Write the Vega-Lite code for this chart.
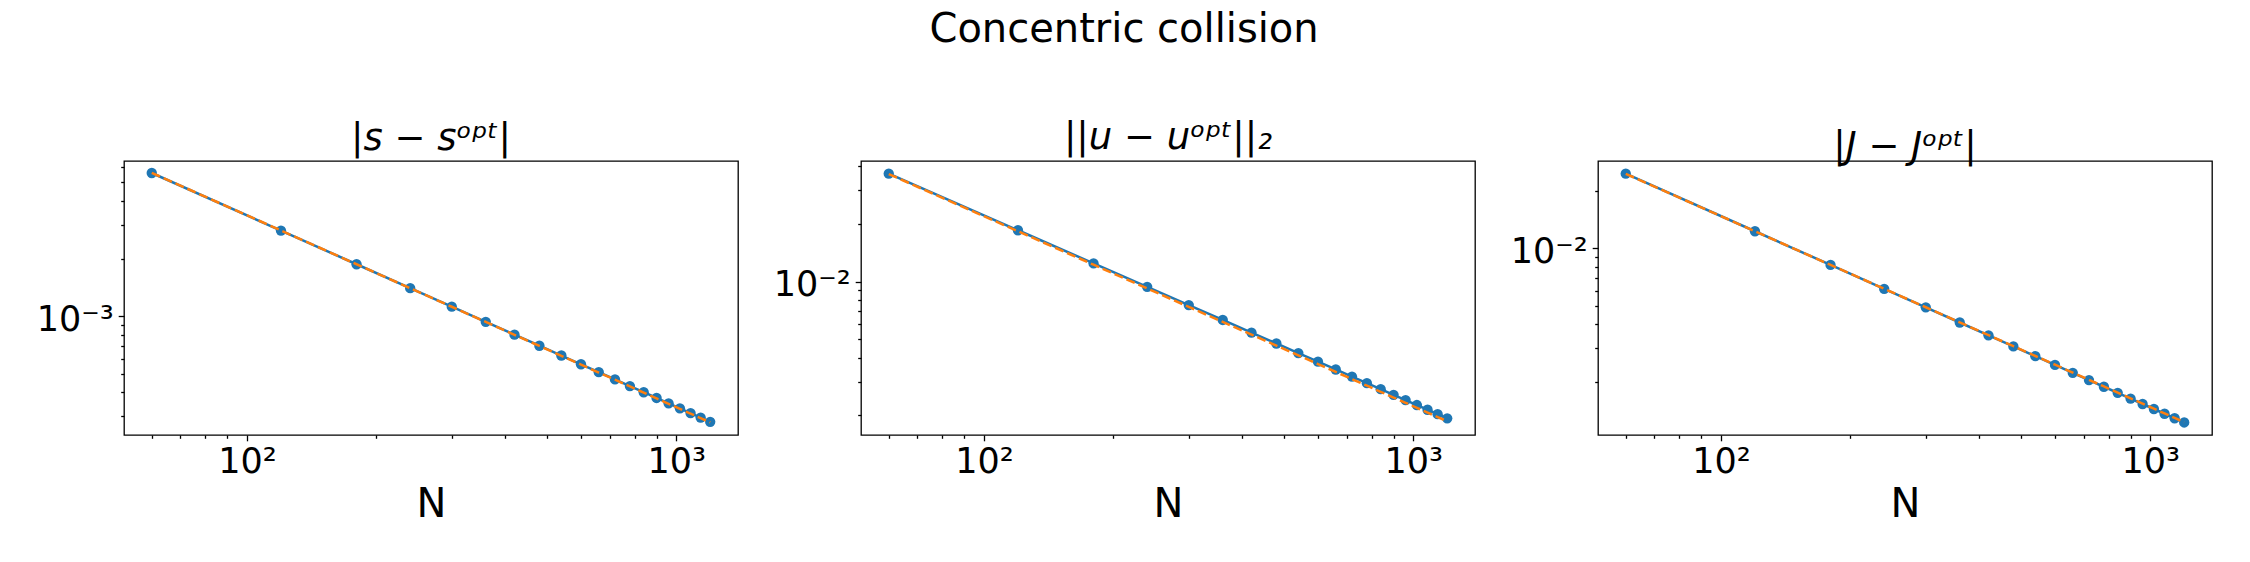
{
  "$schema": "https://vega.github.io/schema/vega-lite/v6.json",
  "autosize": {"type": "none"},
  "padding": {"left": 124, "top": 161, "right": 2126, "bottom": 401},
  "background": "white",
  "bounds": "flush",
  "spacing": 123,
  "title": {"text": "Concentric collision", "font": "DejaVu Sans", "fontSize": 40, "fontWeight": "normal", "color": "black", "anchor": "middle", "offset": 69},
  "config": {
    "view": {"stroke": "black", "strokeWidth": 1.3},
    "axis": {"labelFont": "DejaVu Sans", "labelFontSize": 35, "labelColor": "black", "titleFont": "DejaVu Sans", "titleFontSize": 40, "titleFontWeight": "normal", "titleColor": "black", "grid": false, "domain": false, "tickColor": "black", "tickWidth": 1.3, "labelOverlap": false, "labelBound": false, "labelFlush": false}
  },
  "datasets": {
    "d1": [
      {"N": 60, "err": 0.005600, "fit": 0.005610},
      {"N": 120, "err": 0.002800, "fit": 0.002803},
      {"N": 180, "err": 0.001867, "fit": 0.001867},
      {"N": 240, "err": 0.001400, "fit": 0.001399},
      {"N": 300, "err": 0.001120, "fit": 0.001119},
      {"N": 360, "err": 0.0009333, "fit": 0.000932},
      {"N": 420, "err": 0.0008000, "fit": 0.000798},
      {"N": 480, "err": 0.0007000, "fit": 0.000698},
      {"N": 540, "err": 0.0006222, "fit": 0.000620},
      {"N": 600, "err": 0.0005600, "fit": 0.000558},
      {"N": 660, "err": 0.0005091, "fit": 0.000507},
      {"N": 720, "err": 0.0004667, "fit": 0.000465},
      {"N": 780, "err": 0.0004308, "fit": 0.000429},
      {"N": 840, "err": 0.0004000, "fit": 0.000398},
      {"N": 900, "err": 0.0003733, "fit": 0.000371},
      {"N": 960, "err": 0.0003500, "fit": 0.000348},
      {"N": 1020, "err": 0.0003294, "fit": 0.0003275},
      {"N": 1080, "err": 0.0003111, "fit": 0.000309},
      {"N": 1140, "err": 0.0002947, "fit": 0.000293},
      {"N": 1200, "err": 0.0002800, "fit": 0.000278}
    ],
    "d2": [
      {"N": 60, "err": 0.03660, "fit": 0.03640},
      {"N": 120, "err": 0.01853, "fit": 0.01830},
      {"N": 180, "err": 0.01244, "fit": 0.01224},
      {"N": 240, "err": 0.009381, "fit": 0.009201},
      {"N": 300, "err": 0.007535, "fit": 0.007374},
      {"N": 360, "err": 0.006300, "fit": 0.006154},
      {"N": 420, "err": 0.005415, "fit": 0.005282},
      {"N": 480, "err": 0.004749, "fit": 0.004626},
      {"N": 540, "err": 0.004231, "fit": 0.004116},
      {"N": 600, "err": 0.003815, "fit": 0.003708},
      {"N": 660, "err": 0.003474, "fit": 0.003374},
      {"N": 720, "err": 0.003189, "fit": 0.003094},
      {"N": 780, "err": 0.002948, "fit": 0.002858},
      {"N": 840, "err": 0.002741, "fit": 0.002655},
      {"N": 900, "err": 0.002562, "fit": 0.002479},
      {"N": 960, "err": 0.002404, "fit": 0.002326},
      {"N": 1020, "err": 0.002265, "fit": 0.002190},
      {"N": 1080, "err": 0.002141, "fit": 0.002069},
      {"N": 1140, "err": 0.002030, "fit": 0.001961},
      {"N": 1200, "err": 0.001931, "fit": 0.001864}
    ],
    "d3": [
      {"N": 60, "err": 0.02455, "fit": 0.02450},
      {"N": 120, "err": 0.012275, "fit": 0.012267},
      {"N": 180, "err": 0.008183, "fit": 0.008185},
      {"N": 240, "err": 0.006138, "fit": 0.006142},
      {"N": 300, "err": 0.004910, "fit": 0.004916},
      {"N": 360, "err": 0.004092, "fit": 0.004098},
      {"N": 420, "err": 0.003507, "fit": 0.003514},
      {"N": 480, "err": 0.003069, "fit": 0.003075},
      {"N": 540, "err": 0.002728, "fit": 0.002734},
      {"N": 600, "err": 0.002455, "fit": 0.002461},
      {"N": 660, "err": 0.002232, "fit": 0.002238},
      {"N": 720, "err": 0.002046, "fit": 0.002052},
      {"N": 780, "err": 0.001888, "fit": 0.001894},
      {"N": 840, "err": 0.001754, "fit": 0.001759},
      {"N": 900, "err": 0.001637, "fit": 0.001642},
      {"N": 960, "err": 0.001534, "fit": 0.001540},
      {"N": 1020, "err": 0.001444, "fit": 0.001449},
      {"N": 1080, "err": 0.001364, "fit": 0.001369},
      {"N": 1140, "err": 0.001292, "fit": 0.001297},
      {"N": 1200, "err": 0.001228, "fit": 0.001232}
    ]
  },
  "hconcat": [
    {
      "width": 614, "height": 274,
      "title": {"text": "|s − sᵒᵖᵗ|", "font": "DejaVu Sans", "fontSize": 37, "fontStyle": "italic", "fontWeight": "normal", "color": "black", "anchor": "middle", "offset": -5},
      "data": {"name": "d1"},
      "encoding": {
        "x": {"field": "N", "type": "quantitative", "title": "N",
          "scale": {"type": "log", "domain": [51.7, 1393], "nice": false},
          "axis": {"values": [60, 70, 80, 90, 100, 200, 300, 400, 500, 600, 700, 800, 900, 1000],
            "labelExpr": "datum.value == 100 ? '10²' : (datum.value == 1000 ? '10³' : '')",
            "tickSize": {"condition": {"test": "datum.value == 100 || datum.value == 1000", "value": 5.8}, "value": 3.3},
            "labelPadding": 4, "titlePadding": 5}}
      },
      "layer": [
        {"mark": {"type": "line", "color": "#1f77b4", "strokeWidth": 2.5},
          "encoding": {"y": {"field": "err", "type": "quantitative", "title": null, "scale": {"type": "log", "domain": [0.000239, 0.00647], "nice": false},
            "axis": {"values": [0.0003, 0.0004, 0.0005, 0.0006, 0.0007, 0.0008, 0.0009, 0.001, 0.002, 0.003, 0.004, 0.005, 0.006],
              "labelExpr": "datum.value == 0.001 ? '10⁻³' : ''",
              "tickSize": {"condition": {"test": "datum.value == 0.001", "value": 5.8}, "value": 3.3},
              "labelPadding": 5, "labelOffset": 3}}}},
        {"mark": {"type": "point", "filled": true, "size": 107, "color": "#1f77b4", "opacity": 1},
          "encoding": {"y": {"field": "err", "type": "quantitative", "title": null}}},
        {"mark": {"type": "line", "color": "#ff7f0e", "strokeWidth": 2.5, "strokeDash": [9, 4]},
          "encoding": {"y": {"field": "fit", "type": "quantitative", "title": null}}}
      ]
    },
    {
      "width": 614, "height": 274,
      "title": {"text": "||u − uᵒᵖᵗ||₂", "font": "DejaVu Sans", "fontSize": 37, "fontStyle": "italic", "fontWeight": "normal", "color": "black", "anchor": "middle", "offset": -5},
      "data": {"name": "d2"},
      "encoding": {
        "x": {"field": "N", "type": "quantitative", "title": "N",
          "scale": {"type": "log", "domain": [51.7, 1393], "nice": false},
          "axis": {"values": [60, 70, 80, 90, 100, 200, 300, 400, 500, 600, 700, 800, 900, 1000],
            "labelExpr": "datum.value == 100 ? '10²' : (datum.value == 1000 ? '10³' : '')",
            "tickSize": {"condition": {"test": "datum.value == 100 || datum.value == 1000", "value": 5.8}, "value": 3.3},
            "labelPadding": 4, "titlePadding": 5}}
      },
      "layer": [
        {"mark": {"type": "line", "color": "#1f77b4", "strokeWidth": 2.5},
          "encoding": {"y": {"field": "err", "type": "quantitative", "title": null, "scale": {"type": "log", "domain": [0.00158, 0.0426], "nice": false},
            "axis": {"values": [0.002, 0.003, 0.004, 0.005, 0.006, 0.007, 0.008, 0.009, 0.01, 0.02, 0.03, 0.04],
              "labelExpr": "datum.value == 0.01 ? '10⁻²' : ''",
              "tickSize": {"condition": {"test": "datum.value == 0.01", "value": 5.8}, "value": 3.3},
              "labelPadding": 5, "labelOffset": 3}}}},
        {"mark": {"type": "point", "filled": true, "size": 107, "color": "#1f77b4", "opacity": 1},
          "encoding": {"y": {"field": "err", "type": "quantitative", "title": null}}},
        {"mark": {"type": "line", "color": "#ff7f0e", "strokeWidth": 2.5, "strokeDash": [9, 4]},
          "encoding": {"y": {"field": "fit", "type": "quantitative", "title": null}}}
      ]
    },
    {
      "width": 614, "height": 274,
      "title": {"text": "|J − Jᵒᵖᵗ|", "font": "DejaVu Sans", "fontSize": 37, "fontStyle": "italic", "fontWeight": "normal", "color": "black", "anchor": "middle", "offset": -5},
      "data": {"name": "d3"},
      "encoding": {
        "x": {"field": "N", "type": "quantitative", "title": "N",
          "scale": {"type": "log", "domain": [51.7, 1393], "nice": false},
          "axis": {"values": [60, 70, 80, 90, 100, 200, 300, 400, 500, 600, 700, 800, 900, 1000],
            "labelExpr": "datum.value == 100 ? '10²' : (datum.value == 1000 ? '10³' : '')",
            "tickSize": {"condition": {"test": "datum.value == 100 || datum.value == 1000", "value": 5.8}, "value": 3.3},
            "labelPadding": 4, "titlePadding": 5}}
      },
      "layer": [
        {"mark": {"type": "line", "color": "#1f77b4", "strokeWidth": 2.5},
          "encoding": {"y": {"field": "err", "type": "quantitative", "title": null, "scale": {"type": "log", "domain": [0.001056, 0.0286], "nice": false},
            "axis": {"values": [0.002, 0.003, 0.004, 0.005, 0.006, 0.007, 0.008, 0.009, 0.01, 0.02],
              "labelExpr": "datum.value == 0.01 ? '10⁻²' : ''",
              "tickSize": {"condition": {"test": "datum.value == 0.01", "value": 5.8}, "value": 3.3},
              "labelPadding": 5, "labelOffset": 3}}}},
        {"mark": {"type": "point", "filled": true, "size": 107, "color": "#1f77b4", "opacity": 1},
          "encoding": {"y": {"field": "err", "type": "quantitative", "title": null}}},
        {"mark": {"type": "line", "color": "#ff7f0e", "strokeWidth": 2.5, "strokeDash": [9, 4]},
          "encoding": {"y": {"field": "fit", "type": "quantitative", "title": null}}}
      ]
    }
  ]
}
